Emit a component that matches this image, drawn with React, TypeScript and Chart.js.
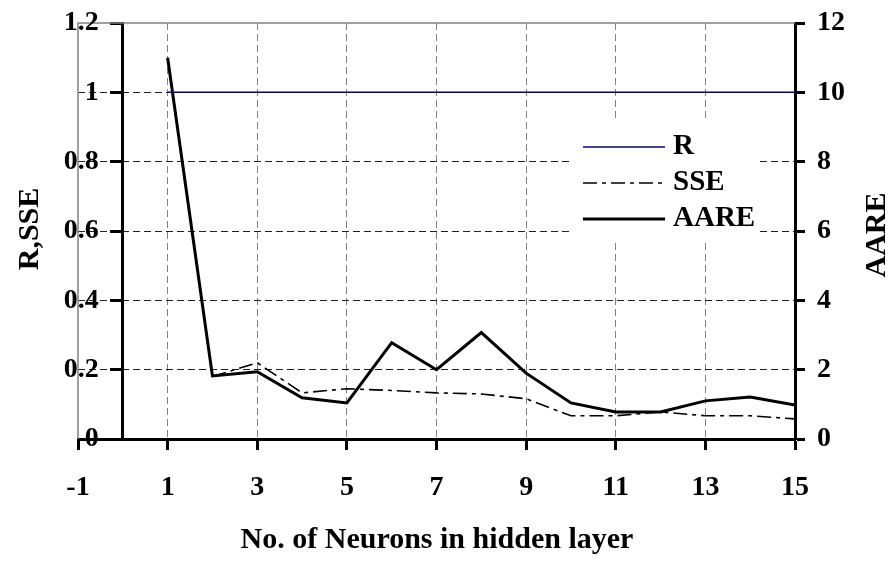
import React, { useEffect, useRef } from "react";
import { Chart, registerables } from "chart.js";

Chart.register(...registerables);

const neurons = [1, 2, 3, 4, 5, 6, 7, 8, 9, 10, 11, 12, 13, 14, 15];
const rValues = [1, 1, 1, 1, 1, 1, 1, 1, 1, 1, 1, 1, 1, 1, 1];
const sseValues = [null, 0.18, 0.22, 0.133, 0.145, 0.14, 0.133, 0.13, 0.116, 0.067, 0.067, 0.078, 0.067, 0.067, 0.058];
const aareValues = [11, 1.82, 1.94, 1.19, 1.04, 2.78, 2.0, 3.07, 1.9, 1.04, 0.78, 0.78, 1.1, 1.21, 0.98];

const xTitle = "No. of Neurons in hidden layer";
const yLeftTitle = "R,SSE";
const yRightTitle = "AARE";

const FONT = "'Liberation Serif', 'Times New Roman', serif";

const fmt = (v: number) => String(Math.round(v * 10) / 10);

const decorPlugin = {
  id: "decor",
  beforeDatasetsDraw(chart: any) {
    const { ctx, chartArea } = chart;
    const { left, top, right, bottom } = chartArea;
    ctx.save();
    ctx.strokeStyle = "#808080";
    ctx.lineWidth = 1.5;
    ctx.beginPath();
    ctx.moveTo(left, bottom);
    ctx.lineTo(left, top);
    ctx.lineTo(right, top);
    ctx.stroke();
    ctx.restore();
  },
  afterDraw(chart: any) {
    const { ctx } = chart;
    ctx.save();
    // left axis tick labels, placed from the y scale's own ticks
    const ys = chart.scales.y;
    const xs = chart.scales.x;
    const axisX = xs.getPixelForValue(0);
    ctx.fillStyle = "#000";
    ctx.font = `bold 28px ${FONT}`;
    ctx.textAlign = "right";
    ctx.textBaseline = "middle";
    ys.ticks.forEach((t: any) => {
      ctx.fillText(fmt(t.value), axisX - 11 - 13, ys.getPixelForValue(t.value));
    });
    // legend
    ctx.fillStyle = "#ffffff";
    ctx.fillRect(572, 121, 185, 118);
    const rows = [147, 183, 219];
    chart.data.datasets.forEach((ds: any, i: number) => {
      const y = rows[i];
      ctx.save();
      ctx.strokeStyle = ds.borderColor;
      ctx.lineWidth = ds.borderWidth;
      ctx.setLineDash(ds.borderDash || []);
      ctx.beginPath();
      ctx.moveTo(583, y);
      ctx.lineTo(665, y);
      ctx.stroke();
      ctx.restore();
      ctx.fillStyle = "#000";
      ctx.font = `bold 29px ${FONT}`;
      ctx.textAlign = "left";
      ctx.textBaseline = "middle";
      ctx.fillText(ds.label, 673, y);
    });
    // titles
    ctx.fillStyle = "#000";
    ctx.font = `bold 30px ${FONT}`;
    ctx.textAlign = "center";
    ctx.textBaseline = "alphabetic";
    ctx.fillText(xTitle, 437, 548);
    ctx.textBaseline = "middle";
    ctx.save();
    ctx.translate(30, 229);
    ctx.rotate(-Math.PI / 2);
    ctx.fillText(yLeftTitle, 0, 0);
    ctx.restore();
    ctx.save();
    ctx.translate(877, 235);
    ctx.rotate(-Math.PI / 2);
    ctx.fillText(yRightTitle, 0, 0);
    ctx.restore();
    ctx.restore();
  },
};

export default function App() {
  const ref = useRef<HTMLCanvasElement | null>(null);
  useEffect(() => {
    if (!ref.current) return;
    const tickFont = { family: FONT, size: 28, weight: "bold" as const };
    const chart = new Chart(ref.current, {
      type: "line",
      data: {
        datasets: [
          {
            label: "R",
            data: neurons.map((n, i) => ({ x: n, y: rValues[i] })),
            borderColor: "#000080",
            borderWidth: 1.5,
            pointRadius: 0,
            yAxisID: "y",
          },
          {
            label: "SSE",
            data: neurons.map((n, i) => ({ x: n, y: sseValues[i] })),
            borderColor: "#000000",
            borderWidth: 1.6,
            borderDash: [14, 5, 4, 5],
            pointRadius: 0,
            yAxisID: "y",
          },
          {
            label: "AARE",
            data: neurons.map((n, i) => ({ x: n, y: aareValues[i] })),
            borderColor: "#000000",
            borderWidth: 3,
            pointRadius: 0,
            yAxisID: "y1",
          },
        ] as any,
      },
      options: {
        animation: false,
        responsive: false,
        layout: { padding: { left: 78, top: 23, right: 0, bottom: 0 } },
        plugins: { legend: { display: false }, tooltip: { enabled: false } },
        scales: {
          x: {
            type: "linear",
            min: -1,
            max: 15,
            ticks: { stepSize: 2, font: tickFont, color: "#000", padding: 21, maxRotation: 0 },
            grid: {
              color: (c: any) => (c.tick && (c.tick.value === -1 || c.tick.value === 15) ? "rgba(0,0,0,0)" : "#808080"),
              lineWidth: 1,
              tickColor: "#000",
              tickWidth: 3,
              tickLength: 11,
            },
            border: { color: "#000", width: 3, dash: [7, 4] },
            afterFit: (s: any) => {
              s.height = 123;
            },
          },
          y: {
            type: "linear",
            position: { x: 0 } as any,
            min: 0,
            max: 1.2,
            ticks: { stepSize: 0.2, display: false },
            grid: {
              color: (c: any) => (c.tick && (c.tick.value === 0 || Math.abs(c.tick.value - 1.2) < 1e-6) ? "rgba(0,0,0,0)" : "#222"),
              lineWidth: 1,
              tickColor: "#000",
              tickWidth: 3,
              tickLength: 11,
            },
            border: { color: "#000", width: 3, dash: [7, 4] },
          },
          y1: {
            type: "linear",
            position: "right",
            min: 0,
            max: 12,
            ticks: { stepSize: 2, font: tickFont, color: "#000", padding: 12 },
            grid: {
              drawOnChartArea: false,
              tickColor: "#000",
              tickWidth: 3,
              tickLength: 10,
            },
            border: { color: "#000", width: 3 },
            afterFit: (s: any) => {
              s.width = 100;
              s.paddingTop = 0;
              s.paddingBottom = 0;
            },
          },
        },
      } as any,
      plugins: [decorPlugin],
    });
    return () => chart.destroy();
  }, []);
  return (
    <div style={{ position: "fixed", left: 0, top: 0, width: 895, height: 562, background: "#fff" }}>
      <canvas ref={ref} width={895} height={562} style={{ display: "block" }} />
    </div>
  );
}
